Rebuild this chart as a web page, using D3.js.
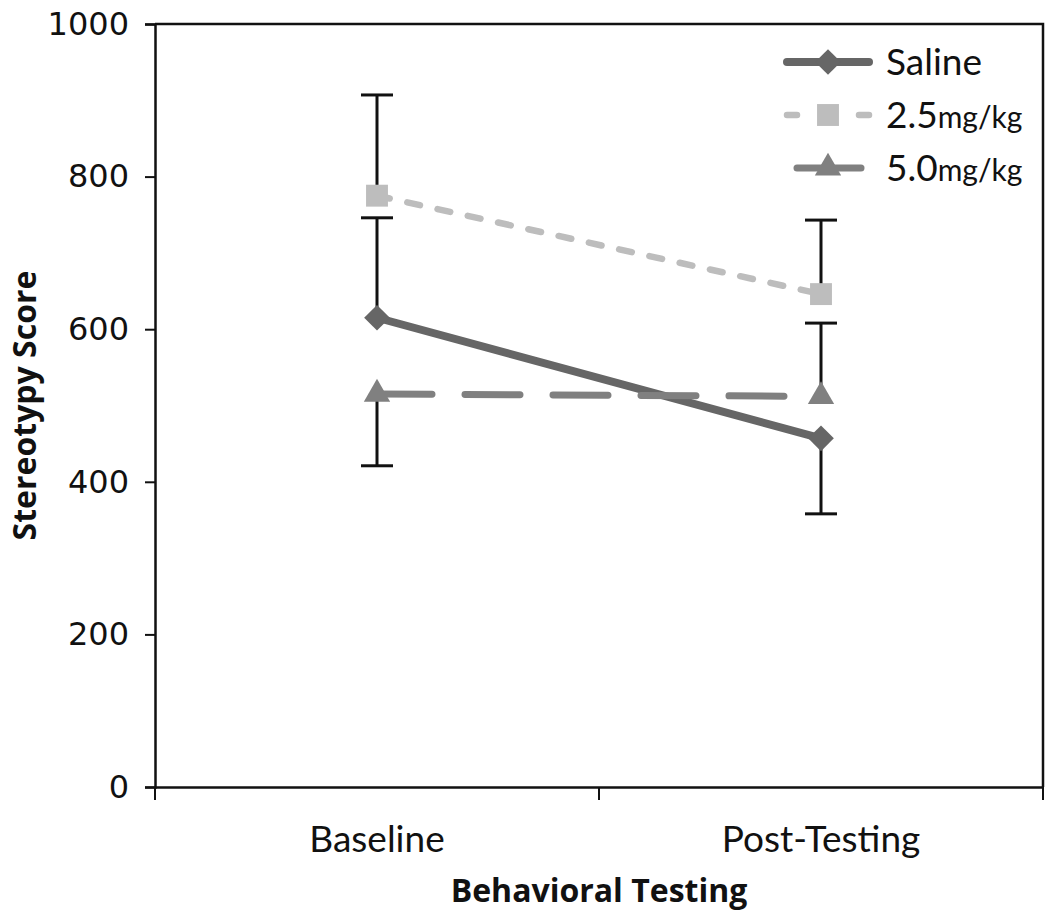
<!DOCTYPE html>
<html>
<head>
<meta charset="utf-8">
<script src="https://cdn.jsdelivr.net/npm/d3@7"></script>
<style>
  body { margin: 0; background: #fff; }
  svg { display: block; }
</style>
</head>
<body>
<svg width="1050" height="914"></svg>
<script>
// Data
const categories = ["Baseline", "Post-Testing"];
const seriesNames = ["Saline", "2.5mg/kg", "5.0mg/kg"];
const saline = [615, 457];
const dose25 = [775, 646];
const dose50 = [515, 512];
// one-sided error bars (upper / lower length)
const salineErrUp = [131, 0];
const salineErrDown = [0, 99];
const dose25ErrUp = [132, 97];
const dose25ErrDown = [0, 0];
const dose50ErrUp = [0, 96];
const dose50ErrDown = [94, 0];
const yTicks = [0, 200, 400, 600, 800, 1000];

const svg = d3.select("svg");
const margin = {top: 24, right: 7, bottom: 127, left: 155};
const width = +svg.attr("width") - margin.left - margin.right;
const height = +svg.attr("height") - margin.top - margin.bottom;

const g = svg.append("g")
    .attr("transform", `translate(${margin.left},${margin.top})`);

const x = d3.scaleBand().domain(categories).range([0, width]).padding(0);
const y = d3.scaleLinear().domain([0, 1000]).range([height, 0]);
const cx = d => x(d) + x.bandwidth() / 2;

// frame (top and right)
g.append("path")
    .attr("d", `M0,0H${width}V${height}`)
    .attr("fill", "none")
    .attr("stroke", "#111")
    .attr("stroke-width", 2.5);

// y axis
const yAxis = g.append("g")
    .call(d3.axisLeft(y).tickValues(yTicks).tickFormat(d3.format("d"))
      .tickSize(10).tickPadding(16));
yAxis.select(".domain").attr("stroke", "#111").attr("stroke-width", 2.5);
yAxis.selectAll(".tick line").attr("stroke", "#111").attr("stroke-width", 2);
yAxis.selectAll(".tick text")
    .attr("font-family", "'DejaVu Sans', Verdana, sans-serif")
    .attr("font-size", "32px")
    .attr("fill", "#111");

// x axis: ticks at band edges
const xAxis = g.append("g")
    .attr("transform", `translate(0,${height})`)
    .call(d3.axisBottom(x).tickSize(0).tickPadding(39));
xAxis.select(".domain").attr("stroke", "#111").attr("stroke-width", 2.5);
xAxis.selectAll(".tick text")
    .attr("font-family", "Lato, 'Open Sans', sans-serif")
    .attr("font-size", "37px")
    .attr("fill", "#111");
xAxis.selectAll(".edge")
  .data([0, width / 2, width])
  .enter().append("line")
    .attr("class", "edge")
    .attr("x1", d => d).attr("x2", d => d)
    .attr("y1", 0).attr("y2", 13)
    .attr("stroke", "#111")
    .attr("stroke-width", 2);

// axis titles
svg.append("text")
    .attr("x", margin.left + width / 2)
    .attr("y", 902)
    .attr("text-anchor", "middle")
    .attr("font-family", "'Open Sans', Lato, sans-serif")
    .attr("font-weight", "bold")
    .attr("font-size", "32px")
    .attr("fill", "#111")
    .text("Behavioral Testing");

svg.append("text")
    .attr("transform", `translate(36,${margin.top + height / 2}) rotate(-90)`)
    .attr("text-anchor", "middle")
    .attr("font-family", "'Open Sans', Lato, sans-serif")
    .attr("font-weight", "bold")
    .attr("font-size", "32px")
    .attr("fill", "#111")
    .text("Stereotypy Score");

const series = [
  {name: seriesNames[0], values: saline, up: salineErrUp, down: salineErrDown,
   color: "#666666", width: 8, dash: null, symbol: d3.symbolSquare, rot: 45, size: 330},
  {name: seriesNames[1], values: dose25, up: dose25ErrUp, down: dose25ErrDown,
   color: "#bdbdbd", width: 6.5, dash: "13,18", symbol: d3.symbolSquare, rot: 0, size: 480},
  {name: seriesNames[2], values: dose50, up: dose50ErrUp, down: dose50ErrDown,
   color: "#808080", width: 7, dash: "55,33", symbol: d3.symbolTriangle, rot: 0, size: 300}
];

// error bars
series.forEach(s => {
  categories.forEach((c, i) => {
    const v = s.values[i];
    const lo = v - s.down[i], hi = v + s.up[i];
    if (hi === lo) return;
    const eb = g.append("g").attr("stroke", "#111").attr("stroke-width", 3);
    eb.append("line")
        .attr("x1", cx(c)).attr("x2", cx(c))
        .attr("y1", y(lo)).attr("y2", y(hi));
    [s.up[i] ? hi : null, s.down[i] ? lo : null].forEach(e => {
      if (e === null) return;
      eb.append("line")
          .attr("x1", cx(c) - 16).attr("x2", cx(c) + 16)
          .attr("y1", y(e)).attr("y2", y(e));
    });
  });
});

// lines
const line = d3.line().x((d, i) => cx(categories[i])).y(d => y(d));
series.forEach(s => {
  g.append("path")
      .datum(s.values)
      .attr("d", line)
      .attr("fill", "none")
      .attr("stroke", s.color)
      .attr("stroke-width", s.width)
      .attr("stroke-linecap", "round")
      .attr("stroke-dasharray", s.dash);
});

// markers
series.forEach(s => {
  g.selectAll(null)
    .data(s.values)
    .enter().append("path")
      .attr("d", d3.symbol().type(s.symbol).size(s.size))
      .attr("transform", (d, i) => `translate(${cx(categories[i])},${y(d)}) rotate(${s.rot})`)
      .attr("fill", s.color);
});

// legend
const legend = svg.append("g").attr("transform", "translate(783,62)");
series.forEach((s, i) => {
  const row = legend.append("g").attr("transform", `translate(0,${i * 53})`);
  row.append("line")
      .attr("x1", i === 2 ? 14 : 4).attr("x2", i === 2 ? 78 : 86)
      .attr("y1", 0).attr("y2", 0)
      .attr("stroke", s.color)
      .attr("stroke-width", s.width)
      .attr("stroke-linecap", "round")
      .attr("stroke-dasharray", i === 1 ? "10,26" : null);
  row.append("path")
      .attr("d", d3.symbol().type(s.symbol).size(s.size))
      .attr("transform", `translate(45,0) rotate(${s.rot})`)
      .attr("fill", s.color);
  const t = row.append("text")
      .attr("x", 103)
      .attr("y", 13)
      .attr("font-family", "Lato, 'Open Sans', sans-serif")
      .attr("font-size", "37px")
      .attr("fill", "#111");
  const m = s.name.match(/^([\d.]+)(mg\/kg)$/);
  if (m) {
    t.append("tspan").text(m[1]);
    t.append("tspan").attr("font-size", "30px").text(m[2]);
  } else {
    t.text(s.name);
  }
});
</script>
</body>
</html>
